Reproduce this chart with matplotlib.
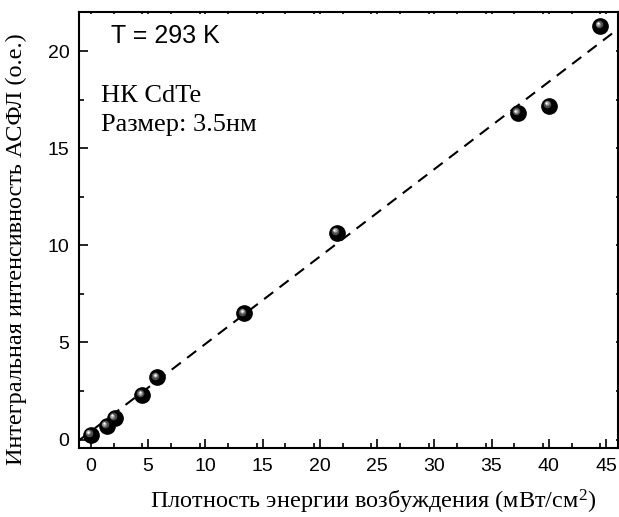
import numpy as np
import matplotlib
matplotlib.use("Agg")
import matplotlib.pyplot as plt
from matplotlib.transforms import offset_copy

# data
power = [0.0, 1.4, 2.1, 4.5, 5.8, 13.4, 21.5, 37.3, 40.0, 44.5]
intensity = [0.25, 0.7, 1.12, 2.3, 3.2, 6.5, 10.65, 16.8, 17.2, 21.3]
fit_slope = 0.450
fit_intercept = 0.42
fit_range = [-1.0, 46.0]

xticks = [0, 5, 10, 15, 20, 25, 30, 35, 40, 45]
yticks = [0, 5, 10, 15, 20]

sans = "Liberation Sans"
serif = "Liberation Serif"
plt.rcParams["mathtext.fontset"] = "custom"
plt.rcParams["mathtext.rm"] = serif
plt.rcParams["mathtext.it"] = serif + ":italic"

fig = plt.figure(figsize=(6.19, 5.17), dpi=100)
ax = fig.add_axes([0.1281, 0.1325, 0.8695, 0.8437])

# fit line
fx = np.array(fit_range)
ax.plot(fx, fit_slope * fx + fit_intercept, color="black", lw=1.5,
        dashes=(5.5, 3.8), zorder=2)

# sphere-like markers: black ball with a grey/white highlight
ax.plot(power, intensity, "o", ms=11, color="black", mec="black", zorder=3)
hl1 = offset_copy(ax.transData, fig=fig, x=-1.8, y=1.8, units="dots")
ax.plot(power, intensity, "o", ms=5.5, color="#4e4e4e", mec="none",
        transform=hl1, zorder=4)
hl2 = offset_copy(ax.transData, fig=fig, x=-2.3, y=2.3, units="dots")
ax.plot(power, intensity, "o", ms=3.2, color="#a8a8a8", mec="none",
        transform=hl2, zorder=5)
hl3 = offset_copy(ax.transData, fig=fig, x=-2.6, y=2.6, units="dots")
ax.plot(power, intensity, "o", ms=1.5, color="white", mec="none",
        transform=hl3, zorder=6)

ax.set_xlim(-1, 46)
ax.set_ylim(-0.46, 22)
ax.set_xticks(xticks)
ax.set_yticks(yticks)
ax.set_xticks(np.arange(-0.5, 46, 2.5)[1:], minor=True)
ax.set_yticks([2.5, 7.5, 12.5, 17.5], minor=True)
ax.tick_params(which="both", direction="in", top=True, right=True,
               width=1.2, labelsize=14, pad=7)
ax.tick_params(which="major", length=6.3)
ax.tick_params(which="minor", length=3.6)
# top / right ticks are only small nubs in the original
for axis in (ax.xaxis, ax.yaxis):
    for t in axis.get_major_ticks() + axis.get_minor_ticks():
        t.tick2line.set_markersize(1.5)
for lbl in ax.get_xticklabels() + ax.get_yticklabels():
    lbl.set_fontfamily(sans)
for s in ax.spines.values():
    s.set_linewidth(1.5)

ax.set_xlabel("Плотность энергии возбуждения (мВт/см$^2$)", fontsize=17.5,
              family=serif)
ax.xaxis.set_label_coords(0.5457, -0.089)
ax.set_ylabel("Интегральная интенсивность АСФЛ (о.е.)", fontsize=17.5,
              family=serif)
ax.yaxis.set_label_coords(-0.0972, 0.457)

ax.text(0.059, 0.929, "T = 293 K", transform=ax.transAxes, fontsize=18,
        family=sans, va="baseline")
ax.text(0.040, 0.794, "НК CdTe", transform=ax.transAxes, fontsize=19,
        family=serif, va="baseline")
ax.text(0.040, 0.727, "Размер: 3.5нм", transform=ax.transAxes, fontsize=19,
        family=serif, va="baseline")

fig.savefig("out.png", dpi=100)
